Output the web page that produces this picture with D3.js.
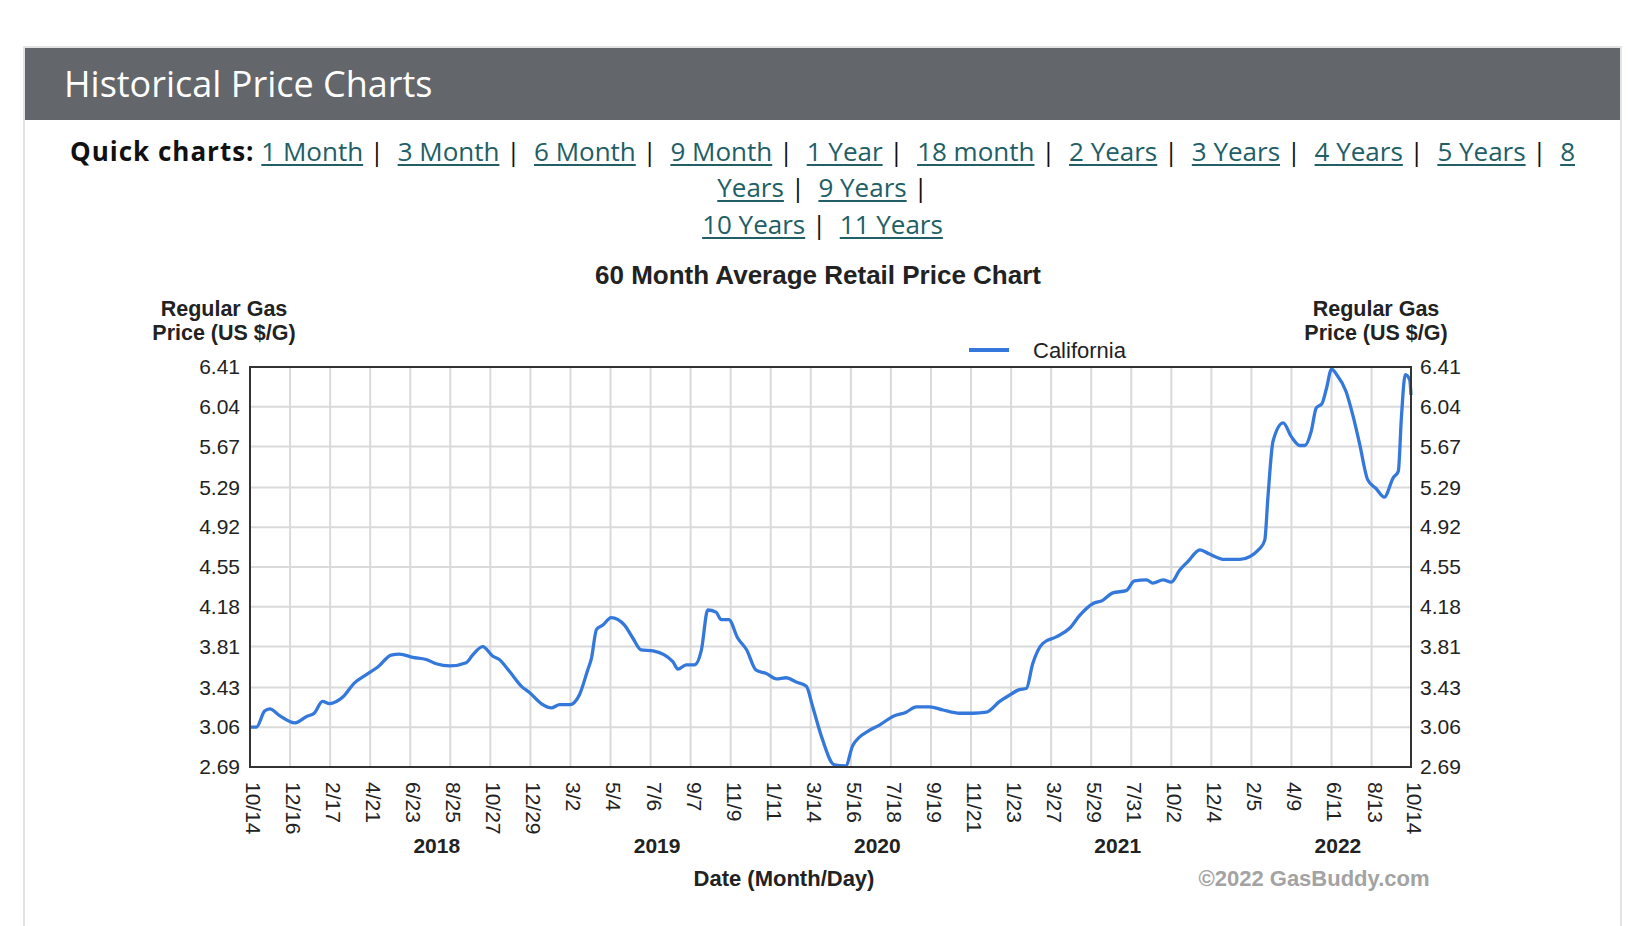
<!DOCTYPE html>
<html>
<head>
<meta charset="utf-8">
<script src="https://cdn.jsdelivr.net/npm/d3@7"></script>
<style>
  html, body { margin: 0; padding: 0; background: #fff; width: 1648px; height: 926px; overflow: hidden; }
  #panel {
    position: absolute; left: 23px; top: 46px; width: 1599px; height: 900px;
    border: 2px solid #e3e3e3; border-bottom: none; box-sizing: border-box;
  }
  #header {
    position: absolute; left: 0; top: 0; right: 0; height: 72px; background: #63666a;
    color: #fff; font-family: "Open Sans", sans-serif; font-size: 36px;
    line-height: 72px; padding-left: 39px;
  }
  #quick {
    position: absolute; left: 0; right: 0; top: 85px; text-align: center;
    font-family: "Open Sans", sans-serif; font-size: 26px; line-height: 36.3px; color: #111;
    white-space: pre;
  }
  #quick b { font-weight: 700; letter-spacing: 1px; }
  #quick a { color: #215e66; text-decoration: underline; text-underline-offset: 3px; }
  #chart { position: absolute; left: 0; top: 0; }
  text { font-family: "Liberation Sans", Arial, sans-serif; }
</style>
</head>
<body>
<div id="panel">
  <div id="header">Historical Price Charts</div>
  <div id="quick"></div>
</div>
<svg id="chart" width="1648" height="926"></svg>
<script>
// ---- data ----
const quickLinks = ["1 Month", "3 Month", "6 Month", "9 Month", "1 Year", "18 month",
  "2 Years", "3 Years", "4 Years", "5 Years", "8 Years", "9 Years", "10 Years", "11 Years"];

const yTicks = [2.69, 3.06, 3.43, 3.81, 4.18, 4.55, 4.92, 5.29, 5.67, 6.04, 6.41];

const xTickDates = ["2017-10-14", "2017-12-16", "2018-02-17", "2018-04-21", "2018-06-23",
  "2018-08-25", "2018-10-27", "2018-12-29", "2019-03-02", "2019-05-04", "2019-07-06",
  "2019-09-07", "2019-11-09", "2020-01-11", "2020-03-14", "2020-05-16", "2020-07-18",
  "2020-09-19", "2020-11-21", "2021-01-23", "2021-03-27", "2021-05-29", "2021-07-31",
  "2021-10-02", "2021-12-04", "2022-02-05", "2022-04-09", "2022-06-11", "2022-08-13",
  "2022-10-14"];

const years = [2018, 2019, 2020, 2021, 2022];

const dates = ["2017-10-14", "2017-10-24", "2017-11-06", "2017-11-14", "2017-11-29",
  "2017-12-23", "2018-01-11", "2018-01-23", "2018-02-05", "2018-02-16", "2018-03-09",
  "2018-03-27", "2018-04-15", "2018-05-03", "2018-05-24", "2018-06-06", "2018-06-27",
  "2018-07-18", "2018-08-03", "2018-08-24", "2018-09-19", "2018-09-29", "2018-10-15",
  "2018-10-31", "2018-11-10", "2018-11-26", "2018-12-15", "2018-12-28", "2019-01-15",
  "2019-01-31", "2019-02-13", "2019-03-01", "2019-03-16", "2019-03-29", "2019-04-04",
  "2019-04-12", "2019-04-22", "2019-05-05", "2019-05-26", "2019-06-08", "2019-06-21",
  "2019-07-10", "2019-08-10", "2019-08-18", "2019-08-31", "2019-09-13", "2019-09-24",
  "2019-10-04", "2019-10-17", "2019-10-25", "2019-11-06", "2019-11-20", "2019-12-04",
  "2019-12-19", "2020-01-04", "2020-01-20", "2020-02-04", "2020-02-20", "2020-03-07",
  "2020-03-17", "2020-03-31", "2020-04-20", "2020-05-08", "2020-05-19", "2020-06-14",
  "2020-06-30", "2020-07-21", "2020-08-11", "2020-08-27", "2020-09-17", "2020-10-08",
  "2020-11-03", "2020-11-24", "2020-12-15", "2021-01-05", "2021-01-21", "2021-02-05",
  "2021-02-16", "2021-02-26", "2021-03-14", "2021-04-04", "2021-04-25", "2021-05-11",
  "2021-06-01", "2021-06-16", "2021-07-02", "2021-07-23", "2021-08-05", "2021-08-24",
  "2021-09-03", "2021-09-19", "2021-10-02", "2021-10-15", "2021-10-28", "2021-11-16",
  "2021-12-01", "2021-12-25", "2022-01-18", "2022-02-18", "2022-02-26", "2022-03-03",
  "2022-03-11", "2022-03-27", "2022-04-09", "2022-04-22", "2022-04-30", "2022-05-10",
  "2022-05-18", "2022-05-27", "2022-06-03", "2022-06-11", "2022-06-19", "2022-07-04",
  "2022-07-15", "2022-07-25", "2022-08-07", "2022-08-20", "2022-09-02", "2022-09-16",
  "2022-09-24", "2022-09-29", "2022-10-05", "2022-10-12", "2022-10-14"];

const california = [3.06, 3.06, 3.21, 3.23, 3.17,
  3.10, 3.16, 3.19, 3.30, 3.28, 3.34,
  3.47, 3.55, 3.62, 3.73, 3.74, 3.71,
  3.69, 3.65, 3.63, 3.66, 3.73, 3.81,
  3.72, 3.69, 3.58, 3.44, 3.38, 3.28,
  3.24, 3.27, 3.27, 3.36, 3.59, 3.70,
  3.97, 4.01, 4.08, 4.01, 3.89, 3.78,
  3.77, 3.67, 3.60, 3.64, 3.64, 3.78,
  4.15, 4.13, 4.06, 4.06, 3.89, 3.78,
  3.59, 3.56, 3.51, 3.52, 3.48, 3.44,
  3.25, 2.97, 2.71, 2.70, 2.89, 3.03,
  3.08, 3.16, 3.20, 3.25, 3.25, 3.22,
  3.19, 3.19, 3.20, 3.30, 3.36, 3.41,
  3.42, 3.65, 3.84, 3.90, 3.98, 4.10,
  4.21, 4.24, 4.31, 4.33, 4.42, 4.43,
  4.40, 4.43, 4.41, 4.52, 4.60, 4.71,
  4.67, 4.62, 4.62, 4.72, 4.80, 5.20,
  5.72, 5.89, 5.76, 5.68, 5.68, 5.81,
  6.03, 6.07, 6.21, 6.39, 6.34, 6.18,
  5.95, 5.70, 5.36, 5.28, 5.20, 5.38,
  5.44, 5.95, 6.34, 6.29, 6.15];

// ---- quick chart links (three rows, wrapped as in the reference) ----
const quick = d3.select("#quick");
const sep = " |  ";
// row 1: up to "8" of "8 Years"
const row1 = quick.append("div");
row1.append("b").text("Quick charts:");
row1.append("span").text(" ");
quickLinks.slice(0, 10).forEach(label => {
  row1.append("a").text(label);
  row1.append("span").text(sep);
});
row1.append("a").text(quickLinks[10].split(" ")[0]);
// row 2: rest of "8 Years", then "9 Years"
const row2 = quick.append("div");
row2.append("a").text(quickLinks[10].split(" ")[1]);
row2.append("span").text(sep);
row2.append("a").text(quickLinks[11]);
row2.append("span").text(" |");
// row 3
const row3 = quick.append("div");
row3.append("a").text(quickLinks[12]);
row3.append("span").text(sep);
row3.append("a").text(quickLinks[13]);

// ---- chart ----
const parse = d3.timeParse("%Y-%m-%d");
const series = dates.map((d, i) => ({ date: parse(d), value: california[i] }));
const tickDates = xTickDates.map(parse);

const plot = { left: 250, right: 1411, top: 367, bottom: 767 };
const svg = d3.select("#chart");

const x = d3.scaleTime()
  .domain([tickDates[0], tickDates[tickDates.length - 1]])
  .range([plot.left, plot.right]);
const y = d3.scaleLinear()
  .domain([yTicks[0], yTicks[yTicks.length - 1]])
  .range([plot.bottom, plot.top]);

// grid
svg.append("g").selectAll("line")
  .data(tickDates.slice(1, -1))
  .join("line")
  .attr("x1", d => x(d)).attr("x2", d => x(d))
  .attr("y1", plot.top).attr("y2", plot.bottom)
  .attr("stroke", "#dadada").attr("stroke-width", 2);
svg.append("g").selectAll("line")
  .data(yTicks.slice(1, -1))
  .join("line")
  .attr("x1", plot.left).attr("x2", plot.right)
  .attr("y1", d => y(d)).attr("y2", d => y(d))
  .attr("stroke", "#dadada").attr("stroke-width", 2);

// y axes, both sides
const fmt = d3.format(".2f");
const yLeft = svg.append("g")
  .attr("transform", `translate(${plot.left - 7},0)`)
  .call(d3.axisLeft(y).tickValues(yTicks).tickFormat(fmt).tickSize(0));
const yRight = svg.append("g")
  .attr("transform", `translate(${plot.right + 6},0)`)
  .call(d3.axisRight(y).tickValues(yTicks).tickFormat(fmt).tickSize(0));
[yLeft, yRight].forEach(g => {
  g.select(".domain").remove();
  g.selectAll("text").attr("font-size", 21).attr("fill", "#222")
    .style("font-family", "'Liberation Sans', Arial, sans-serif");
});

// x axis with rotated labels
const xAxis = svg.append("g")
  .attr("transform", `translate(0,${plot.bottom})`)
  .call(d3.axisBottom(x).tickValues(tickDates).tickFormat(d3.timeFormat("%-m/%-d")).tickSize(0));
xAxis.select(".domain").remove();
xAxis.selectAll("text")
  .attr("font-size", 21).attr("fill", "#222")
  .style("font-family", "'Liberation Sans', Arial, sans-serif")
  .attr("text-anchor", "start")
  .attr("transform", "translate(3,15) rotate(90)")
  .attr("x", 0).attr("y", 0).attr("dy", "0.36em");

// year labels centred under their ticks
years.forEach(yr => {
  const xs = tickDates.filter(d => d.getFullYear() === yr && !(d.getMonth() === 0 && yr === 2018)).map(x);
  svg.append("text")
    .attr("x", d3.mean(xs) + 6.5).attr("y", 853)
    .attr("text-anchor", "middle").attr("font-size", 21).attr("font-weight", "bold")
    .attr("fill", "#222").text(yr);
});

// the line
const line = d3.line()
  .x(d => x(d.date))
  .y(d => y(d.value))
  .curve(d3.curveMonotoneX);
svg.append("path")
  .datum(series)
  .attr("fill", "none")
  .attr("stroke", "#3478dc")
  .attr("stroke-width", 3.3)
  .attr("stroke-linejoin", "round")
  .attr("d", line);

// plot frame
svg.append("rect")
  .attr("x", plot.left).attr("y", plot.top)
  .attr("width", plot.right - plot.left).attr("height", plot.bottom - plot.top)
  .attr("fill", "none").attr("stroke", "#333").attr("stroke-width", 2);

// title
svg.append("text")
  .attr("x", 818).attr("y", 284)
  .attr("text-anchor", "middle").attr("font-size", 26).attr("font-weight", "bold")
  .attr("fill", "#222").text("60 Month Average Retail Price Chart");

// axis titles
[224, 1376].forEach(cx => {
  const t = svg.append("text").attr("text-anchor", "middle")
    .attr("font-size", 21.5).attr("font-weight", "bold").attr("fill", "#222");
  t.append("tspan").attr("x", cx).attr("y", 316).text("Regular Gas");
  t.append("tspan").attr("x", cx).attr("y", 340).text("Price (US $/G)");
});

svg.append("text")
  .attr("x", 784).attr("y", 886)
  .attr("text-anchor", "middle").attr("font-size", 22).attr("font-weight", "bold")
  .attr("fill", "#222").text("Date (Month/Day)");

svg.append("text")
  .attr("x", 1314).attr("y", 886)
  .attr("text-anchor", "middle").attr("font-size", 22).attr("font-weight", "bold")
  .attr("fill", "#a3a3a3").text("©2022 GasBuddy.com");

// legend
const legend = svg.append("g").attr("transform", "translate(969,350)");
legend.append("line")
  .attr("x1", 0).attr("x2", 40).attr("y1", 0).attr("y2", 0)
  .attr("stroke", "#3478dc").attr("stroke-width", 4);
legend.append("text")
  .attr("x", 64).attr("y", 0).attr("dy", "0.35em")
  .attr("font-size", 22).attr("fill", "#222").text("California");
</script>
</body>
</html>
